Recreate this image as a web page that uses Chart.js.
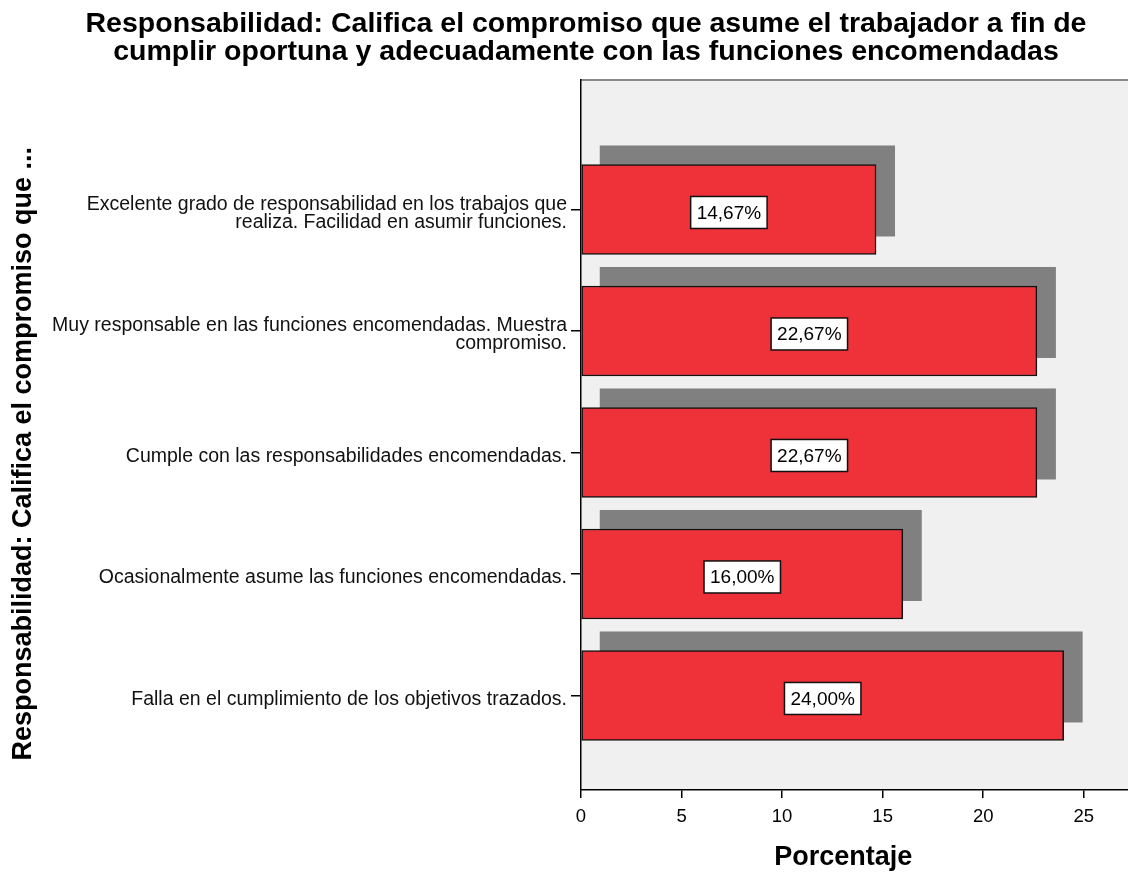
<!DOCTYPE html>
<html>
<head>
<meta charset="utf-8">
<script src="https://cdn.jsdelivr.net/npm/chart.js@4/dist/chart.umd.min.js"></script>
<style>
  html, body { margin: 0; padding: 0; background: #ffffff; }
  #wrap { width: 1128px; height: 872px; position: relative; }
</style>
</head>
<body>
<div id="wrap"><canvas id="c"></canvas></div>
<script>
const chartTitle = [
  "Responsabilidad: Califica el compromiso que asume el trabajador a fin de",
  "cumplir oportuna y adecuadamente con las funciones encomendadas"
];
const yAxisTitle = "Responsabilidad: Califica el compromiso que ...\u00A0\u00A0\u00A0\u00A0\u00A0";
const xAxisTitle = "Porcentaje\u00A0\u00A0\u00A0";
const categories = [
  ["Excelente grado de responsabilidad en los trabajos que", "realiza. Facilidad en asumir funciones."],
  ["Muy responsable en las funciones encomendadas. Muestra", "compromiso."],
  ["Cumple con las responsabilidades encomendadas."],
  ["Ocasionalmente asume las funciones encomendadas."],
  ["Falla en el cumplimiento de los objetivos trazados."]
];
const percentages = [14.67, 22.67, 22.67, 16.00, 24.00];
const xTickValues = [0, 5, 10, 15, 20, 25];

const FONT = "'Liberation Sans', Arial, sans-serif";

const plotBg = {
  id: 'plotBg',
  beforeDraw(chart) {
    const { ctx, chartArea: a } = chart;
    ctx.save();
    ctx.fillStyle = '#f0f0f0';
    ctx.fillRect(a.left, a.top, a.right - a.left, a.bottom - a.top);
    ctx.strokeStyle = '#8a8a8a';
    ctx.lineWidth = 2;
    ctx.beginPath();
    ctx.moveTo(a.left, a.top);
    ctx.lineTo(a.right, a.top);
    ctx.stroke();
    ctx.restore();
  }
};

const barShadow = {
  id: 'barShadow',
  beforeDatasetsDraw(chart) {
    const { ctx } = chart;
    const meta = chart.getDatasetMeta(0);
    ctx.save();
    ctx.fillStyle = '#808080';
    meta.data.forEach(bar => {
      const p = bar.getProps(['x', 'y', 'base', 'height'], true);
      ctx.fillRect(p.base + 18, p.y - p.height / 2 - 19, p.x - p.base + 1, p.height + 1);
    });
    ctx.restore();
  }
};

const valueBoxes = {
  id: 'valueBoxes',
  afterDatasetsDraw(chart) {
    const { ctx } = chart;
    const meta = chart.getDatasetMeta(0);
    ctx.save();
    ctx.font = '19px ' + FONT;
    ctx.textAlign = 'center';
    ctx.textBaseline = 'middle';
    meta.data.forEach((bar, i) => {
      const p = bar.getProps(['x', 'y', 'base'], true);
      const txt = percentages[i].toFixed(2).replace('.', ',') + '%';
      const w = ctx.measureText(txt).width + 12;
      const h = 32;
      const cx = (p.base + p.x) / 2;
      const cy = p.y + 3;
      ctx.fillStyle = '#ffffff';
      ctx.fillRect(cx - w / 2, cy - h / 2, w, h);
      ctx.strokeStyle = '#111111';
      ctx.lineWidth = 1.5;
      ctx.strokeRect(cx - w / 2, cy - h / 2, w, h);
      ctx.fillStyle = '#000000';
      ctx.fillText(txt, cx, cy + 1);
    });
    ctx.restore();
  }
};

new Chart(document.getElementById('c'), {
  type: 'bar',
  data: {
    datasets: [{
      data: percentages.map((v, i) => ({ x: v, y: i })),
      backgroundColor: '#ef3139',
      borderColor: '#111111',
      borderWidth: 1.5,
      borderSkipped: false,
      barThickness: 90
    }]
  },
  options: {
    indexAxis: 'y',
    responsive: true,
    maintainAspectRatio: false,
    animation: false,
    layout: { padding: { left: 44, right: 0, top: 0, bottom: 0 } },
    plugins: {
      legend: { display: false },
      tooltip: { enabled: false },
      title: {
        display: true,
        text: chartTitle,
        color: '#000000',
        font: { family: FONT, size: 28.5, weight: 'bold', lineHeight: 0.98 },
        padding: { top: 10, bottom: 14.1 }
      }
    },
    scales: {
      x: {
        type: 'linear',
        min: 0,
        max: 27.2,
        afterBuildTicks(scale) {
          scale.ticks = xTickValues.map(v => ({ value: v }));
        },
        afterFit(scale) { scale.height = 82; },
        ticks: {
          color: '#000000',
          font: { family: FONT, size: 18.5 },
          padding: 8,
          maxRotation: 0,
          autoSkip: false
        },
        grid: { drawOnChartArea: false, drawTicks: true, tickLength: 8, color: '#000000', lineWidth: 1.5 },
        border: { display: true, color: '#000000', width: 1.5 },
        title: {
          display: true,
          text: xAxisTitle,
          color: '#000000',
          font: { family: FONT, size: 27, weight: 'bold', lineHeight: 1.05 },
          padding: { top: 0, bottom: 0 }
        }
      },
      y: {
        type: 'linear',
        reverse: true,
        offset: false,
        min: -1.066,
        max: 4.778,
        afterBuildTicks(scale) {
          scale.ticks = categories.map((c, i) => ({ value: i }));
        },
        afterFit(scale) { scale.width = 537; },
        ticks: {
          color: '#111111',
          font: { family: FONT, size: 19.5, lineHeight: 0.92 },
          padding: 4,
          labelOffset: 4,
          autoSkip: false,
          callback: (value) => categories[value]
        },
        grid: { offset: false, drawOnChartArea: false, drawTicks: true, tickLength: 10, color: '#000000', lineWidth: 1.5 },
        border: { display: true, color: '#000000', width: 1.5 },
        title: {
          display: true,
          text: yAxisTitle,
          color: '#000000',
          font: { family: FONT, size: 27, weight: 'bold', lineHeight: 1.05 },
          padding: { top: -35, bottom: 0 }
        }
      }
    }
  },
  plugins: [plotBg, barShadow, valueBoxes]
});
</script>
</body>
</html>
